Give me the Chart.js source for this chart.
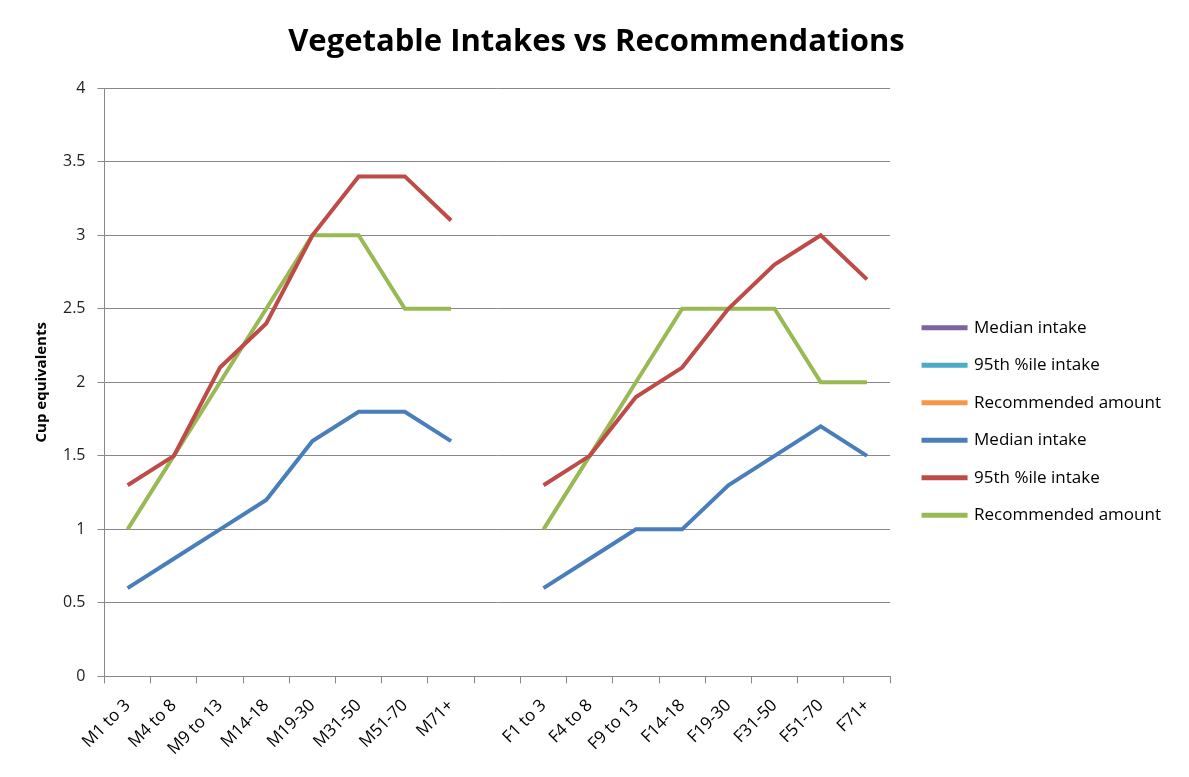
<!DOCTYPE html>
<html>
<head>
<meta charset="utf-8">
<script src="https://cdn.jsdelivr.net/npm/chart.js@4.4.0/dist/chart.umd.min.js"></script>
<style>
html,body{margin:0;padding:0;background:#fff;}
#wrap{width:1189px;height:777px;}
</style>
</head>
<body>
<div id="wrap"><canvas id="c" width="1189" height="777"></canvas></div>
<script>
const categories = ['M1 to 3','M4 to 8','M9 to 13','M14-18','M19-30','M31-50','M51-70','M71+','',
                    'F1 to 3','F4 to 8','F9 to 13','F14-18','F19-30','F31-50','F51-70','F71+'];
const medianIntake = [0.6,0.8,1.0,1.2,1.6,1.8,1.8,1.6,null,0.6,0.8,1.0,1.0,1.3,1.5,1.7,1.5];
const pct95Intake  = [1.3,1.5,2.1,2.4,3.0,3.4,3.4,3.1,null,1.3,1.5,1.9,2.1,2.5,2.8,3.0,2.7];
const recommended  = [1.0,1.5,2.0,2.5,3.0,3.0,2.5,2.5,null,1.0,1.5,2.0,2.5,2.5,2.5,2.0,2.0];
const emptySeries = [];
const yTicks = [0,0.5,1,1.5,2,2.5,3,3.5,4];

function ds(label, data, color){
  return {label, data, borderColor: color, backgroundColor: color, borderWidth: 4,
          pointRadius: 0, pointHoverRadius: 0, tension: 0, spanGaps: false, fill: false};
}

// widen the gap between plot and legend, and nudge the legend down
const legendAdjust = {
  id: 'legendAdjust',
  beforeLayout(chart) {
    const lg = chart.legend;
    if (lg && !lg._patched) {
      const orig = lg.fit;
      lg.fit = function() { orig.call(this); this.width += 13; };
      lg._patched = true;
    }
  },
  afterLayout(chart) {
    const lg = chart.legend;
    if (lg) { lg.left += 13; lg.top += 31; lg.bottom += 31; }
  }
};

new Chart(document.getElementById('c'), {
  type: 'line',
  plugins: [legendAdjust],
  data: {
    labels: categories,
    datasets: [
      ds('Median intake', emptySeries, '#7F62A1'),
      ds('95th %ile intake', emptySeries, '#4BACC6'),
      ds('Recommended amount', emptySeries, '#F79646'),
      ds('Median intake', medianIntake, '#4A7EBB'),
      ds('95th %ile intake', pct95Intake, '#BE4B48'),
      ds('Recommended amount', recommended, '#98B954')
    ]
  },
  options: {
    responsive: false,
    animation: false,
    devicePixelRatio: 1,
    layout: {padding: {left: 22, right: 18, top: 10, bottom: 6}},
    plugins: {
      title: {
        display: true,
        text: 'Vegetable Intakes vs Recommendations',
        color: '#000',
        font: {family: 'Open Sans', size: 31, weight: 'bold'},
        padding: {top: 14, bottom: 27}
      },
      legend: {
        position: 'right',
        align: 'center',
        labels: {
          color: '#000',
          font: {family: 'Open Sans', size: 17},
          boxWidth: 42,
          boxHeight: 1,
          padding: 20.5
        }
      },
      tooltip: {enabled: false}
    },
    scales: {
      x: {
        offset: true,
        grid: {display: true, offset: true, drawOnChartArea: false, drawTicks: true, tickLength: 7, color: '#888'},
        border: {display: true, color: '#888'},
        ticks: {color: '#000', font: {family: 'Open Sans', size: 17}, maxRotation: 45, minRotation: 45, autoSkip: false, padding: 12}
      },
      y: {
        min: 0, max: 4,
        afterBuildTicks: (axis) => { axis.ticks = yTicks.map(v => ({value: v})); },
        grid: {color: '#888', tickLength: 7, drawTicks: true},
        border: {display: true, color: '#888'},
        ticks: {color: '#222', font: {family: 'Open Sans', size: 16}, padding: 12, callback: (v) => String(v)},
        title: {display: true, text: 'Cup equivalents', color: '#000', font: {family: 'Open Sans', size: 15, weight: 'bold'}, padding: {top: 11, bottom: 0}}
      }
    }
  }
});
</script>
</body>
</html>
